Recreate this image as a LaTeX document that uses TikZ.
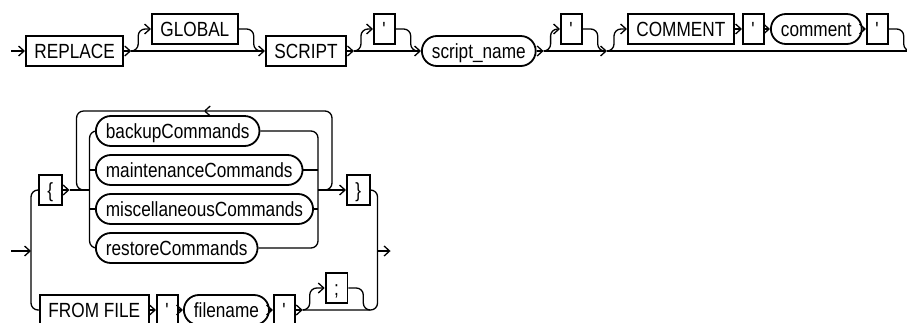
\documentclass[tikz,border=0pt]{standalone}
\usepackage{fontspec}
\setmainfont{Liberation Sans}[FakeStretch=0.84]
\usetikzlibrary{arrows.meta,positioning,calc}
\tikzset{
  rail/.style={line width=1.3pt,black},
  railturn/.style={rail,rounded corners=7pt},
  flow/.style={-{Straight Barb[length=5.5pt,width=10pt]}},
  kwbox/.style={draw=black,line width=1.8pt,minimum height=30pt,inner xsep=8.5pt,
    text height=14.5pt,text depth=0pt,font=\fontsize{20.5pt}{24pt}\selectfont},
  varbox/.style={kwbox,rounded corners=15pt,inner xsep=10pt}
}
\begin{document}
\begin{tikzpicture}[x=1pt,y=-1pt]
  \useasboundingbox (0,0) rectangle (907,322);
  % REPLACE [GLOBAL] SCRIPT ...
  \node[kwbox,anchor=west] (replace) at (25,51) {REPLACE};
  \node[kwbox,anchor=west] (global) at (151,29) {GLOBAL};
  \node[kwbox,anchor=west] (script) at (265,51) {SCRIPT};
  \node[kwbox,anchor=west] (q1) at (373,29) {\textquotesingle};
  \node[varbox,anchor=west] (scriptname) at (421,51) {script\_name};
  \node[kwbox,anchor=west] (q2) at (560,29) {\textquotesingle};
  \node[kwbox,anchor=west] (comment) at (627,29) {COMMENT};
  \node[kwbox,anchor=west] (q3) at (742,29) {\textquotesingle};
  \node[varbox,anchor=west] (commentvar) at (770,29) {comment};
  \node[kwbox,anchor=west] (q4) at (866,29) {\textquotesingle};
  \coordinate (in1) at (11,51);
  \draw[rail,flow] (in1) -- (replace.west);
  \draw[rail,flow] (replace.east) -- ++(7,0) coordinate (s1);
  \draw[rail,flow] (s1) -- (script.west);
  \draw[railturn,flow] (s1) -- ++(7,0) |- (global.west);
  \draw[railturn] (global.east) -- ++(15,0) -- ++(0,22) -- ++(7,0);
  \draw[rail,flow] (script.east) -- ++(7,0) coordinate (s2);
  \draw[rail,flow] (s2) -- (scriptname.west);
  \draw[railturn,flow] (s2) -- ++(7,0) |- (q1.west);
  \draw[railturn] (q1.east) -- ++(15,0) -- ++(0,22) -- ++(7,0);
  \draw[rail,flow] (scriptname.east) -- ++(7,0) coordinate (s3);
  \coordinate (s4) at ($(comment.west)+(-20,22)$);
  \draw[rail,flow] (s3) -- (s4);
  \draw[railturn,flow] (s3) -- ++(7,0) |- (q2.west);
  \draw[railturn] (q2.east) -- ++(15,0) -- ++(0,22) -- ++(7,0);
  \draw[railturn,flow] (s4) -- ++(7,0) |- (comment.west);
  \foreach \a/\b in {comment/q3,q3/commentvar,commentvar/q4} {\draw[rail,flow] (\a) -- (\b);}
  \coordinate (end1) at (907,51);
  \draw[rail] (s4) -- (end1);
  \draw[railturn] (q4.east) -- ++(15,0) -- ++(0,22) -- ++(7,0);
  % { commands } | FROM FILE ...
  \node[kwbox,anchor=west] (lbrace) at (38,190) {\{};
  \node[varbox,anchor=west] (backup) at (95,131) {backupCommands};
  \node[varbox,anchor=west] (maint) at (95,170) {maintenanceCommands};
  \node[varbox,anchor=west] (misc) at (95,209) {miscellaneousCommands};
  \node[varbox,anchor=west] (restore) at (95,248) {restoreCommands};
  \node[kwbox,anchor=west] (rbrace) at (346,190) {\}};
  \node[kwbox,anchor=west] (fromfile) at (39,310) {FROM FILE};
  \node[kwbox,anchor=west] (q5) at (156,310) {\textquotesingle};
  \node[varbox,anchor=west] (filename) at (183,310) {filename};
  \node[kwbox,anchor=west] (q6) at (273,310) {\textquotesingle};
  \node[kwbox,anchor=west] (semi) at ($(q6.east)+(29,-22)$) {;};
  \coordinate (in2) at (11,251);
  \coordinate (j0) at (31,251);
  \draw[rail,flow] (in2) -- (j0);
  \draw[railturn] (lbrace.west) -| (j0) |- (fromfile.west);
  \draw[rail,flow] (lbrace.east) -- ++(7,0) coordinate (s5);
  \coordinate (cl) at ($(s5)+(20,0)$);
  \coordinate (cr) at (318,190);
  \draw[rail] (s5) -- (cl);
  \draw[railturn] (backup.west) -| (cl) |- (restore.west);
  \draw[railturn] (backup.east) -| (cr) |- (restore.east);
  \foreach \n in {maint,misc} {
    \draw[rail] (cl |- \n.west) -- (\n.west);
    \draw[rail] (\n.east) -- (cr |- \n.east);
  }
  \draw[rail,flow] (cr) -- (rbrace.west);
  % loop back
  \coordinate (looptop) at ($(cl)!0.5!(cr)+(0,-79)$);
  \draw[railturn,flow] (cr) -- ++(14,0) |- (looptop);
  \draw[railturn] (looptop) -| ($(s5)+(7,0)$) -- ++(7,0);
  \coordinate (jr) at ($(rbrace.east)+(7,61)$);
  \draw[railturn] (rbrace.east) -| (jr);
  \coordinate (out2) at ($(jr)+(13,0)$);
  \draw[rail,flow] (jr) -- (out2);
  \foreach \a/\b in {fromfile/q5,q5/filename,filename/q6} {\draw[rail,flow] (\a) -- (\b);}
  \draw[rail,flow] (q6.east) -- ++(7,0) coordinate (s6);
  \draw[railturn] (s6) -| (jr);
  \draw[railturn,flow] (s6) -- ++(7,0) |- (semi.west);
  \draw[railturn] (semi.east) -- ++(15,0) -- ++(0,22) -- ++(7,0);
\end{tikzpicture}
\end{document}
